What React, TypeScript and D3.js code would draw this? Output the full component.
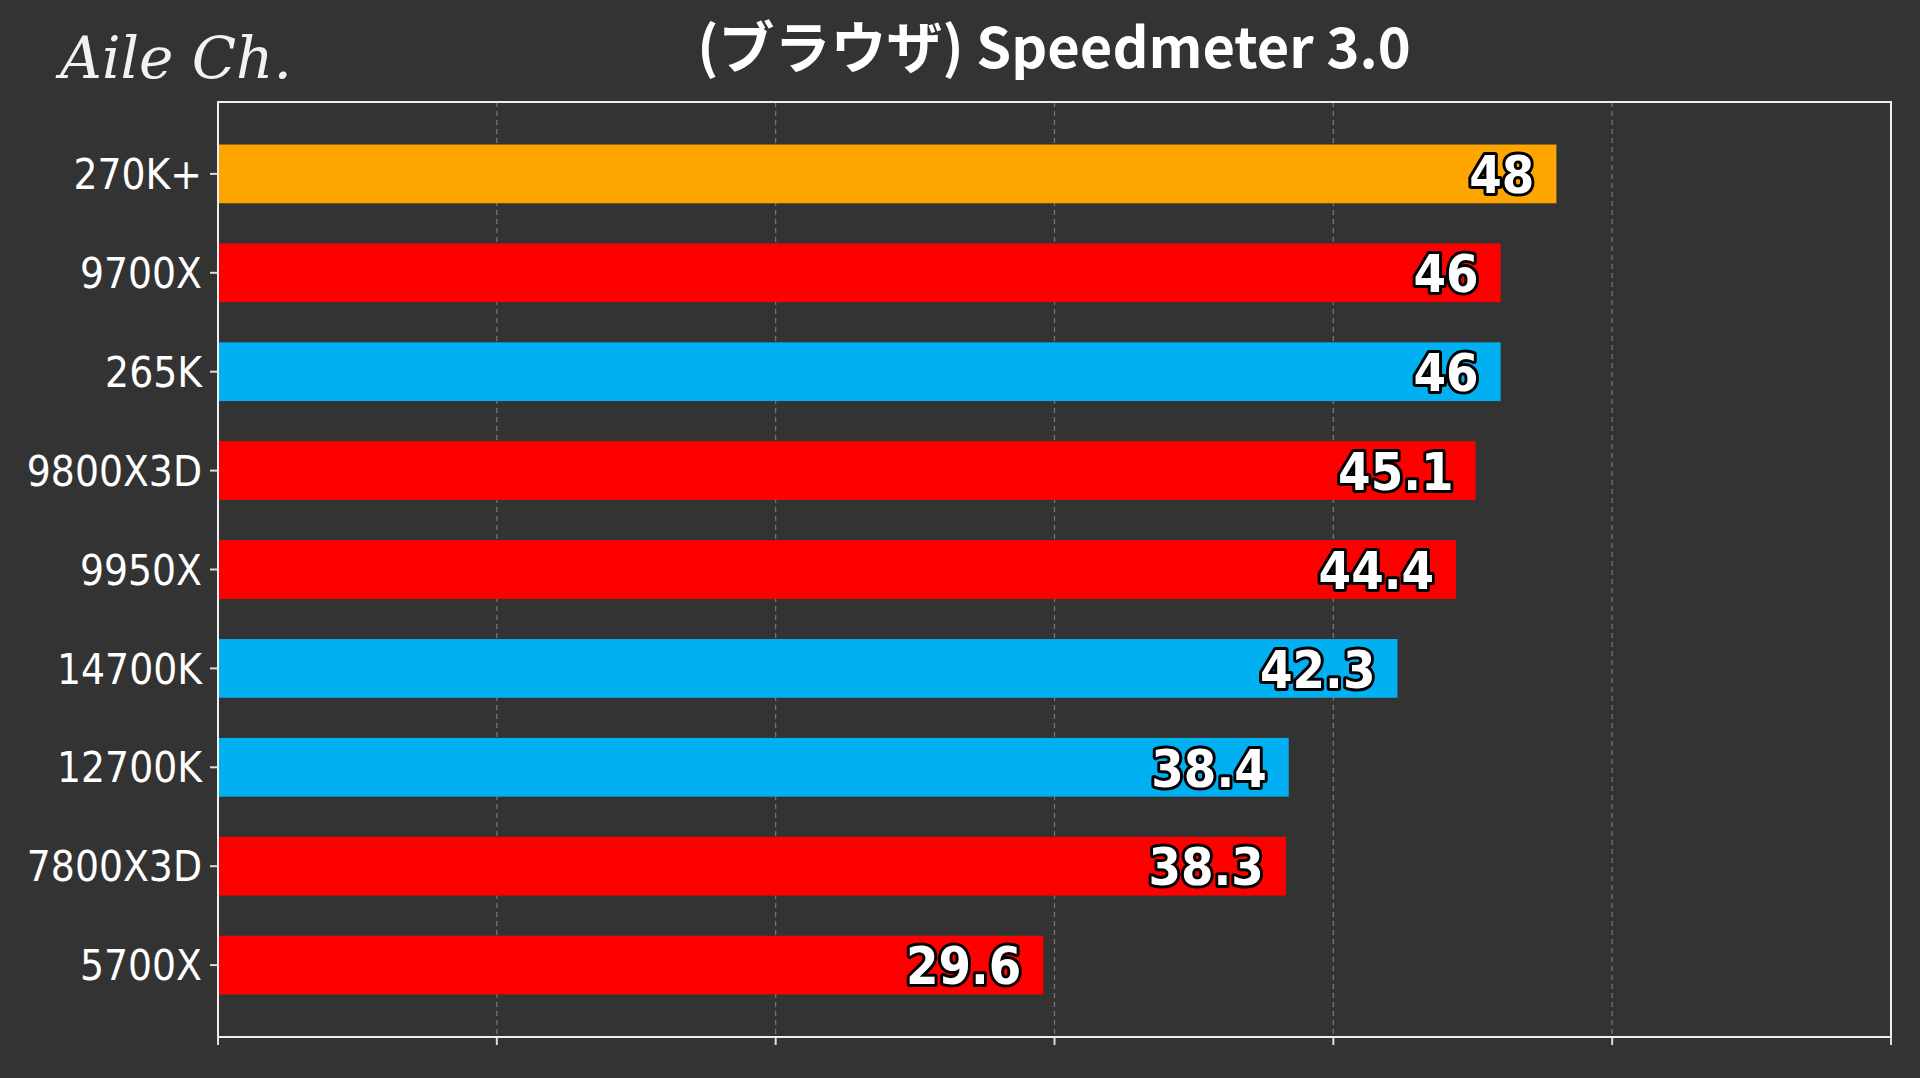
import * as d3 from "d3";

const cpus = ["270K+", "9700X", "265K", "9800X3D", "9950X", "14700K", "12700K", "7800X3D", "5700X"];
const scores = [48, 46, 46, 45.1, 44.4, 42.3, 38.4, 38.3, 29.6];
const colors = ["#FFA500", "#FF0000", "#00B0F0", "#FF0000", "#FF0000", "#00B0F0", "#00B0F0", "#FF0000", "#FF0000"];
const xTicks = [0, 10, 20, 30, 40, 50, 60];

const W = 1920, H = 1078;
const m = { left: 218, right: 1891, top: 102, bottom: 1037 };
const font = "'DejaVu Sans Condensed', 'Noto Sans', sans-serif";

export default function App() {
  const x = d3.scaleLinear().domain([0, 60]).range([m.left, m.right]);
  const y = d3.scaleBand().domain(cpus).range([m.top, m.bottom]).paddingInner(0.406).paddingOuter(0.43);
  return (
    <svg width={W} height={H} style={{ display: "block", position: "absolute", left: 0, top: 0 }}>
      <rect width={W} height={H} fill="#333333" />
      <text x={60} y={78} fill="#f2f2f2" fontSize={58} fontFamily="'DejaVu Serif', serif" fontStyle="italic">Aile Ch.</text>
      <text x={1054} y={68} fill="#fff" fontSize={56} fontWeight="bold" textAnchor="middle" fontFamily="'Noto Sans CJK JP', sans-serif">(ブラウザ) Speedmeter 3.0</text>
      {xTicks.slice(1, -1).map((t) => (
        <line key={t} x1={x(t)} x2={x(t)} y1={m.top} y2={m.bottom} stroke="#777" strokeDasharray="5,4" strokeWidth={1.2} />
      ))}
      {xTicks.map((t) => (
        <line key={"t" + t} x1={x(t)} x2={x(t)} y1={m.bottom} y2={m.bottom + 8} stroke="#ddd" strokeWidth={2} />
      ))}
      {cpus.map((c, i) => {
        const yc = (y(c) ?? 0) + y.bandwidth() / 2;
        return (
          <g key={c}>
            <rect x={x(0)} y={y(c)} width={x(scores[i]) - x(0)} height={y.bandwidth()} fill={colors[i]} />
            <line x1={m.left - 8} x2={m.left} y1={yc} y2={yc} stroke="#ddd" strokeWidth={2} />
            <text x={m.left - 16} y={yc} dy="0.36em" fill="#fff" fontSize={42} textAnchor="end" fontFamily={font}>{c}</text>
            <text x={x(scores[i]) - 22} y={yc} dy="0.37em" fill="#fff" stroke="#000" strokeWidth={6} paintOrder="stroke" strokeLinejoin="round" fontSize={52} fontWeight="bold" textAnchor="end" fontFamily={font}>{scores[i]}</text>
          </g>
        );
      })}
      <rect x={m.left} y={m.top} width={m.right - m.left} height={m.bottom - m.top} fill="none" stroke="#eee" strokeWidth={2} />
    </svg>
  );
}
